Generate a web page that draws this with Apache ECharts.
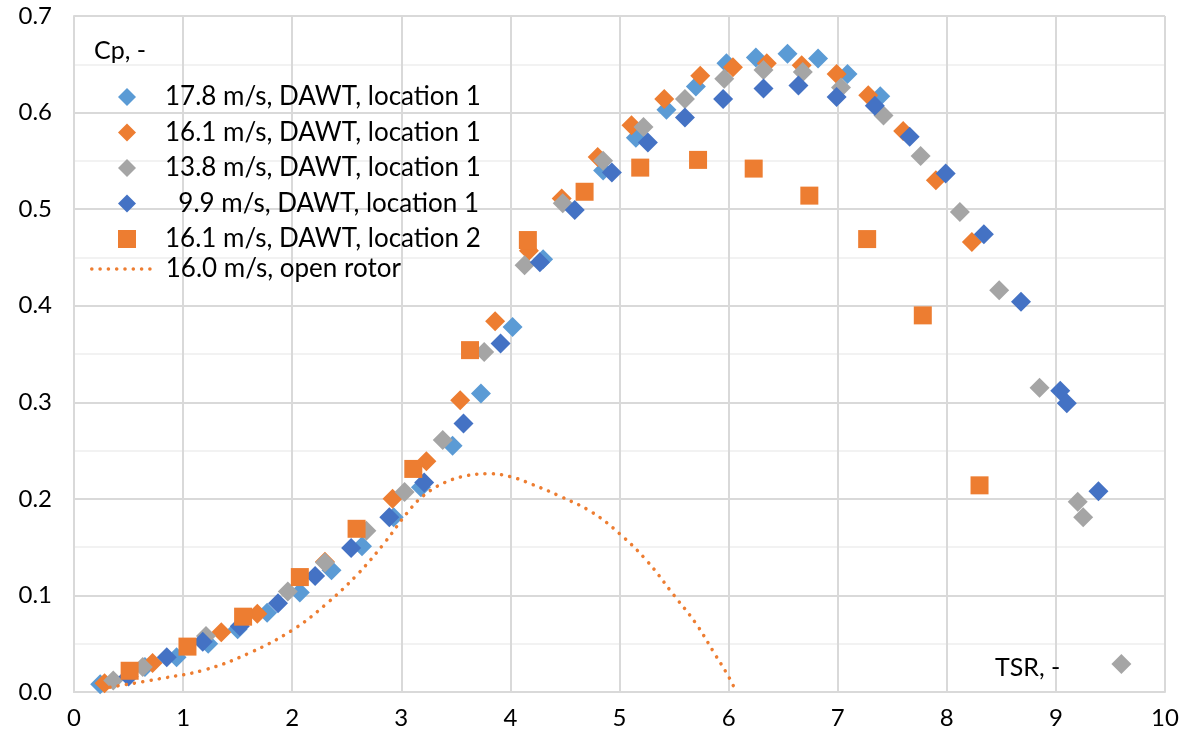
<!DOCTYPE html>
<html>
<head>
<meta charset="utf-8">
<script src="https://cdn.jsdelivr.net/npm/echarts@6/dist/echarts.min.js"></script>
<style>
html,body{margin:0;padding:0;background:#fff;}
#chart{width:1190px;height:746px;}
</style>
</head>
<body>
<div id="chart"></div>
<script>
// ---- data ----
const xTicks = [0,1,2,3,4,5,6,7,8,9,10];
const yTicks = [0,0.1,0.2,0.3,0.4,0.5,0.6,0.7];
const seriesNames = [
  '17.8 m/s, DAWT, location 1',
  '16.1 m/s, DAWT, location 1',
  '13.8 m/s, DAWT, location 1',
  '  9.9 m/s, DAWT, location 1',
  '16.1 m/s, DAWT, location 2',
  '16.0 m/s, open rotor'
];
const v178loc1 = [[0.24,0.008],[0.65,0.026],[0.94,0.036],[1.23,0.050],[1.50,0.065],[1.77,0.082],[2.07,0.103],[2.36,0.126],[2.64,0.151],[2.93,0.181],[3.18,0.212],[3.47,0.255],[3.73,0.309],[4.02,0.378],[4.30,0.448],[4.85,0.540],[5.15,0.574],[5.43,0.603],[5.70,0.627],[5.98,0.651],[6.25,0.657],[6.54,0.661],[6.82,0.656],[7.09,0.640],[7.39,0.617]];
const v161loc1 = [[0.28,0.009],[0.72,0.030],[1.35,0.062],[1.68,0.081],[2.30,0.135],[2.92,0.200],[3.23,0.239],[3.54,0.302],[3.86,0.384],[4.17,0.457],[4.47,0.511],[4.80,0.554],[5.11,0.587],[5.41,0.614],[5.74,0.638],[6.04,0.647],[6.35,0.651],[6.67,0.649],[6.99,0.640],[7.28,0.618],[7.60,0.581],[7.90,0.530],[8.23,0.466]];
const v138loc1 = [[0.36,0.012],[0.63,0.026],[1.21,0.058],[1.96,0.104],[2.30,0.134],[2.68,0.167],[3.03,0.207],[3.38,0.261],[3.76,0.352],[4.13,0.442],[4.48,0.506],[4.85,0.550],[5.22,0.585],[5.60,0.614],[5.96,0.635],[6.32,0.644],[6.68,0.642],[7.03,0.626],[7.42,0.597],[7.76,0.555],[8.12,0.497],[8.48,0.416],[8.85,0.315],[9.20,0.197],[9.25,0.181],[9.60,0.029]];
const v99loc1 = [[0.50,0.016],[0.85,0.036],[1.18,0.052],[1.52,0.068],[1.87,0.092],[2.21,0.120],[2.54,0.149],[2.89,0.181],[3.21,0.217],[3.57,0.278],[3.91,0.361],[4.27,0.445],[4.59,0.499],[4.93,0.538],[5.26,0.569],[5.60,0.595],[5.95,0.614],[6.32,0.625],[6.64,0.628],[6.99,0.616],[7.34,0.607],[7.66,0.575],[7.99,0.537],[8.34,0.474],[8.68,0.404],[9.04,0.312],[9.10,0.299],[9.39,0.208]];
const v161loc2 = [[0.51,0.022],[1.04,0.047],[1.55,0.078],[2.07,0.119],[2.59,0.169],[3.11,0.231],[3.63,0.354],[4.16,0.468],[4.68,0.518],[5.19,0.543],[5.72,0.551],[6.23,0.542],[6.74,0.514],[7.27,0.469],[7.78,0.390],[8.30,0.214]];
const openRotor = [[0.33,0.005],[0.8,0.014],[1.2,0.023],[1.6,0.040],[2.0,0.064],[2.3,0.090],[2.6,0.122],[2.85,0.155],[3.05,0.185],[3.2,0.203],[3.4,0.217],[3.6,0.224],[3.8,0.226],[4.0,0.223],[4.2,0.215],[4.45,0.203],[4.75,0.186],[5.0,0.164],[5.25,0.136],[5.5,0.100],[5.7,0.071],[5.87,0.040],[6.0,0.016],[6.07,0.0]];
const colors = ['#5B9BD5','#ED7D31','#A5A5A5','#4472C4','#ED7D31','#ED7D31'];

// ---- chart ----
const FONT = 'Lato';
const chart = echarts.init(document.getElementById('chart'), null, {renderer:'canvas'});
function scatter(i, data, symbol, size){
  return {name: seriesNames[i], type:'scatter', data: data, symbol: symbol, symbolSize: size,
    itemStyle:{color: colors[i], opacity:1}, emphasis:{disabled:true}, z: 2+i};
}
const dotted = {color:'#ED7D31', width:3.5, type:[0.1,8.2], cap:'round'};
const option = {
  animation:false,
  textStyle:{fontFamily:FONT},
  grid:{left:74, right:25, top:16, bottom:54, containLabel:false},
  title:[
    {text:'Cp, -', left:89, top:33, textStyle:{fontFamily:FONT, fontSize:25, fontWeight:'normal', color:'#000'}},
    {text:'TSR, -', left:990, top:650, textStyle:{fontFamily:FONT, fontSize:25, fontWeight:'normal', color:'#000'}}
  ],
  legend:[
    {data: seriesNames.slice(0,5), orient:'vertical', left:113, top:79, itemWidth:18, itemHeight:18, itemGap:9.5,
     selectedMode:false, textStyle:{fontFamily:FONT, fontSize:26, color:'#000', padding:[0,0,0,24]}},
    {data: [seriesNames[5]], orient:'vertical', left:85, top:251, itemWidth:65, itemHeight:18,
     selectedMode:false, itemStyle:{opacity:0},
     textStyle:{fontFamily:FONT, fontSize:26, color:'#000', padding:[0,0,0,4]},
     lineStyle:dotted}
  ],
  xAxis:{type:'value', min:xTicks[0], max:xTicks[xTicks.length-1], interval:1,
    axisLine:{show:true, lineStyle:{color:'#D9D9D9', width:2}}, axisTick:{show:false},
    axisLabel:{fontFamily:FONT, fontSize:24, color:'#000', margin:14},
    splitLine:{show:true, lineStyle:{color:'#D9D9D9', width:2}}},
  yAxis:{type:'value', min:yTicks[0], max:yTicks[yTicks.length-1], interval:0.1,
    axisLine:{show:true, lineStyle:{color:'#D9D9D9', width:2}}, axisTick:{show:false},
    axisLabel:{fontFamily:FONT, fontSize:24, color:'#000', margin:22, formatter: v => v.toFixed(1)},
    splitLine:{show:true, lineStyle:{color:'#D9D9D9', width:2}},
    minorTick:{show:false, splitNumber:2},
    minorSplitLine:{show:true, lineStyle:{color:'#F2F2F2', width:2}}},
  series:[
    scatter(0, v178loc1, 'diamond', 20),
    scatter(1, v161loc1, 'diamond', 20),
    scatter(2, v138loc1, 'diamond', 20),
    scatter(3, v99loc1, 'diamond', 20),
    scatter(4, v161loc2, 'rect', 18),
    {name: seriesNames[5], type:'line', data: openRotor, smooth:0.4, showSymbol:false, symbol:'none',
     itemStyle:{color: colors[5]},
     lineStyle:dotted, emphasis:{disabled:true}, z:8}
  ]
};
chart.setOption(option);
</script>
</body>
</html>
